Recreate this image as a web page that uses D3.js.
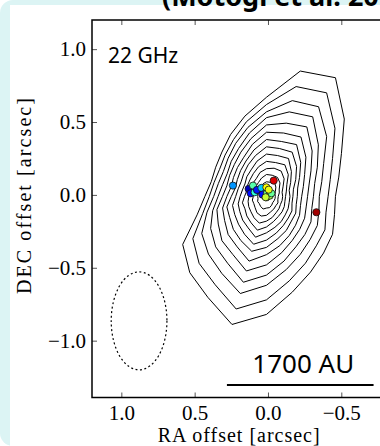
<!DOCTYPE html>
<html>
<head>
<meta charset="utf-8">
<script src="https://cdn.jsdelivr.net/npm/d3@7"></script>
<style>
body { margin: 0; background: #fff; }
svg { display: block; }
</style>
</head>
<body>
<script>
var W = 380, H = 446;

// axis ticks (arcsec)
var raTicks = [1.0, 0.5, 0.0, -0.5];
var decTicks = [1.0, 0.5, 0.0, -0.5, -1.0];

// contour centre (ra, dec offset in arcsec)
var contourCentre = [0.01, -0.01];
// directions of the radii, degrees counter-clockwise from west (right)
var contourAngles = [0, 15, 30, 45, 60, 75, 90, 105, 120, 135, 150, 165, 180, 195, 210, 225, 240, 255, 270, 285, 300, 315, 330, 345];
// radii of each contour level (arcsec), outermost first
var contourRadii = [
  [.47, .51, .59, .75, .94, .89, .68, .57, .49, .43, .40, .39, .42, .49, .66, .74, .80, .91, .81, .68, .60, .55, .52, .48],
  [.42, .45, .52, .66, .82, .78, .63, .53, .45, .40, .37, .37, .39, .45, .58, .65, .70, .80, .71, .60, .53, .48, .46, .42],
  [.36, .39, .45, .58, .71, .68, .58, .49, .42, .37, .34, .34, .36, .42, .51, .56, .61, .69, .61, .52, .46, .42, .40, .37],
  [.32, .34, .40, .50, .63, .60, .54, .45, .38, .34, .31, .31, .33, .38, .44, .49, .53, .61, .54, .46, .40, .37, .35, .32],
  [.28, .30, .35, .44, .55, .52, .49, .41, .35, .31, .29, .28, .30, .35, .38, .43, .46, .53, .47, .40, .35, .32, .30, .28],
  [.24, .26, .30, .38, .47, .45, .44, .37, .31, .28, .26, .25, .27, .31, .33, .37, .40, .46, .40, .35, .31, .28, .26, .24],
  [.21, .22, .26, .33, .41, .39, .39, .33, .28, .25, .23, .22, .24, .28, .29, .32, .35, .39, .35, .30, .27, .24, .23, .21],
  [.18, .19, .23, .29, .35, .34, .34, .29, .25, .22, .20, .20, .21, .24, .25, .27, .30, .34, .30, .26, .23, .21, .20, .18],
  [.16, .16, .19, .24, .30, .29, .29, .25, .21, .19, .17, .17, .18, .20, .21, .23, .25, .29, .25, .22, .20, .18, .17, .16],
  [.13, .14, .16, .21, .25, .24, .24, .21, .18, .16, .15, .14, .15, .17, .17, .19, .21, .24, .21, .18, .16, .15, .14, .13],
  [.11, .11, .13, .17, .20, .20, .19, .17, .14, .13, .12, .11, .12, .13, .14, .15, .17, .19, .17, .15, .13, .12, .11, .11],
  [.08, .09, .10, .13, .15, .15, .15, .13, .11, .10, .09, .08, .09, .10, .10, .11, .13, .14, .13, .11, .10, .09, .09, .08],
  [.06, .06, .07, .09, .11, .10, .10, .09, .08, .07, .06, .06, .06, .06, .07, .07, .08, .09, .08, .08, .07, .06, .06, .06],
  [.03, .03, .03, .04, .05, .05, .05, .05, .04, .03, .03, .03, .03, .03, .03, .03, .03, .03, .03, .03, .03, .03, .03, .03]
];

// maser spots: offsets (arcsec) and normalised velocity (colour index)
var maserRA  = [0.239, -0.039, -0.330, 0.132, 0.118, 0.102, 0.091, 0.075, 0.045, 0.038, 0.011, 0.007, -0.012, -0.023, 0.016, -0.005];
var maserDec = [0.064, 0.098, -0.119, 0.041, 0.011, 0.064, 0.018, 0.034, 0.048, 0.002, 0.052, 0.011, -0.005, 0.011, -0.016, 0.036];
var maserV   = [0.25, 0.92, 0.97, 0.05, 0.12, 0.45, 0.40, 0.13, 0.30, 0.12, 0.64, 0.48, 0.55, 0.47, 0.58, 0.62];

// beam (arcsec): centre, semi-axes
var beamCentre = [0.879, -0.864];
var beamAxes = [0.19, 0.336];

// scale bar (arcsec)
var barRA = [0.28, -0.72];
var barDec = -1.305;
var barLabel = "1700 AU";

var svg = d3.select("body").append("svg")
  .attr("width", W)
  .attr("height", H);

// slide background
svg.append("rect").attr("width", W).attr("height", H).attr("fill", "#fff");
svg.append("rect")
  .attr("x", 0).attr("y", 0)
  .attr("width", 420).attr("height", H)
  .attr("rx", 13)
  .attr("fill", "#dcf4f4");
svg.append("rect")
  .attr("x", 10).attr("y", 5)
  .attr("width", W).attr("height", H)
  .attr("fill", "#fff");

svg.append("text")
  .attr("x", 162).attr("y", 6)
  .style("font-family", "'Noto Sans', sans-serif")
  .style("font-weight", "bold")
  .style("font-size", "27px")
  .text("(Motogi et al. 2016)");

var x = d3.scaleLinear().domain([1.2, -0.8]).range([92, 385.3]);
var y = d3.scaleLinear().domain([-1.39, 1.2]).range([397.5, 20]);

var jet = d3.scaleLinear()
  .domain([0, 0.11, 0.35, 0.5, 0.64, 0.89, 1])
  .range(["#000080", "#0000ff", "#00ffff", "#80ff80", "#ffff00", "#ff0000", "#800000"]);

// contours
var line = d3.line()
  .x(function(d) { return x(d[0]); })
  .y(function(d) { return y(d[1]); })
  .curve(d3.curveLinearClosed);

var contours = contourRadii.map(function(radii) {
  return radii.map(function(r, i) {
    var a = contourAngles[i] * Math.PI / 180;
    return [contourCentre[0] - r * Math.cos(a), contourCentre[1] + r * Math.sin(a)];
  });
});

svg.append("g")
  .selectAll("path")
  .data(contours)
  .enter().append("path")
  .attr("d", line)
  .attr("fill", "none")
  .attr("stroke", "#000")
  .attr("stroke-width", 1);

// masers
svg.append("g")
  .selectAll("circle")
  .data(maserRA)
  .enter().append("circle")
  .attr("cx", function(d) { return x(d); })
  .attr("cy", function(d, i) { return y(maserDec[i]); })
  .attr("r", 3.6)
  .attr("fill", function(d, i) { return jet(maserV[i]); })
  .attr("stroke", "#111")
  .attr("stroke-width", 0.8);

// beam
svg.append("ellipse")
  .attr("cx", x(beamCentre[0]))
  .attr("cy", y(beamCentre[1]))
  .attr("rx", Math.abs(x(beamCentre[0] + beamAxes[0]) - x(beamCentre[0])))
  .attr("ry", Math.abs(y(beamCentre[1] + beamAxes[1]) - y(beamCentre[1])))
  .attr("fill", "none")
  .attr("stroke", "#000")
  .attr("stroke-width", 1.2)
  .attr("stroke-dasharray", "2,2.5");

// scale bar
svg.append("line")
  .attr("x1", x(barRA[0])).attr("x2", x(barRA[1]))
  .attr("y1", y(barDec)).attr("y2", y(barDec))
  .attr("stroke", "#000")
  .attr("stroke-width", 2);

svg.append("text")
  .attr("x", (x(barRA[0]) + x(barRA[1])) / 2 + 3)
  .attr("y", y(barDec) - 12)
  .attr("text-anchor", "middle")
  .style("font-family", "'Noto Sans', sans-serif")
  .style("font-size", "26px")
  .text(barLabel);

svg.append("text")
  .attr("x", 108).attr("y", 63)
  .style("font-family", "'Noto Sans', sans-serif")
  .style("font-size", "21px")
  .text("22 GHz");

// axes
var fmt = d3.format(".1f");
var tickFont = "'Liberation Serif', serif";

var gl = svg.append("g").attr("transform", "translate(" + x.range()[0] + ",0)")
  .call(d3.axisLeft(y).tickValues(decTicks).tickFormat(fmt).tickSizeInner(-5).tickSizeOuter(0).tickPadding(6));
var gb = svg.append("g").attr("transform", "translate(0," + y.range()[0] + ")")
  .call(d3.axisBottom(x).tickValues(raTicks).tickFormat(fmt).tickSizeInner(-5).tickSizeOuter(0).tickPadding(8));
var gt = svg.append("g").attr("transform", "translate(0," + y.range()[1] + ")")
  .call(d3.axisTop(x).tickValues(raTicks).tickFormat("").tickSizeInner(-5).tickSizeOuter(0));
var gr = svg.append("g").attr("transform", "translate(" + x.range()[1] + ",0)")
  .call(d3.axisRight(y).tickValues(decTicks).tickFormat("").tickSizeInner(-5).tickSizeOuter(0));

[gl, gb, gt, gr].forEach(function(g) {
  g.select(".domain").remove();
  g.selectAll(".tick line").attr("stroke", "#555");
  g.selectAll(".tick text")
    .attr("fill", "#000")
    .style("font-family", tickFont)
    .style("font-size", "21px");
});

svg.append("rect")
  .attr("x", x.range()[0]).attr("y", y.range()[1])
  .attr("width", x.range()[1] - x.range()[0])
  .attr("height", y.range()[0] - y.range()[1])
  .attr("fill", "none")
  .attr("stroke", "#000")
  .attr("stroke-width", 1.5);

svg.append("text")
  .attr("x", (x.range()[0] + x.range()[1]) / 2)
  .attr("y", 442)
  .attr("text-anchor", "middle")
  .attr("textLength", 162)
  .style("font-family", tickFont)
  .style("font-size", "20px")
  .text("RA offset [arcsec]");

svg.append("text")
  .attr("transform", "translate(31,196) rotate(-90)")
  .attr("text-anchor", "middle")
  .attr("textLength", 196)
  .style("font-family", tickFont)
  .style("font-size", "20px")
  .text("DEC offset [arcsec]");
</script>
</body>
</html>
